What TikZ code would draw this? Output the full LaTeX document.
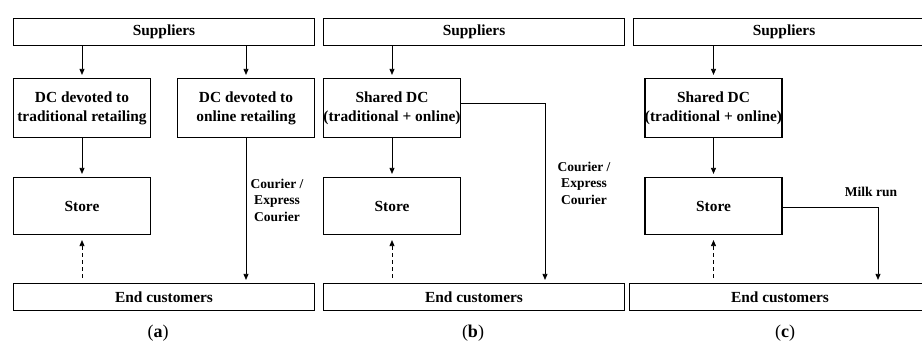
\documentclass[tikz,border=0pt]{standalone}
\usepackage{fontspec}
\setmainfont{Liberation Serif}
\usetikzlibrary{arrows.meta}

\begin{document}
\begin{tikzpicture}[x=1pt, y=-1pt,
  box/.style={draw, line width=1.2pt, align=center, inner sep=0pt, font=\bfseries\fontsize{15.4}{19}\selectfont},
  wide/.style={box, minimum width=301pt, minimum height=27pt},
  dc/.style={box, minimum width=137pt, minimum height=59pt},
  shop/.style={box, minimum width=137pt, minimum height=57pt},
  flow/.style={line width=0.8pt, -{Triangle[length=6pt,width=5pt]}, shorten >=3pt},
  back/.style={flow, dash pattern=on 4pt off 3pt, shorten <=5pt, shorten >=5pt},
  lbl/.style={align=center, font=\bfseries\fontsize{13.5}{16.5}\selectfont},
  captext/.style={font=\fontsize{18}{20}\selectfont}]
  \clip (0,0) rectangle (922,344);

  % (a) separate DCs
  \node[wide] (supA) at (164,32) {Suppliers};
  \node[dc] (dctA) at (82,108) {DC devoted to\\traditional retailing};
  \node[dc] (dcoA) at (246,108) {DC devoted to\\online retailing};
  \node[shop] (storeA) at (82,206) {Store};
  \node[wide] (endA) at (164,297) {End customers};
  \draw[flow] (supA.south -| dctA) -- (dctA);
  \draw[flow] (supA.south -| dcoA) -- (dcoA);
  \draw[flow] (dctA) -- (storeA);
  \draw[back] (endA.north -| storeA) -- (storeA.south);
  \draw[flow] (dcoA) -- (dcoA |- endA.north);
  \node[lbl] (courA) at (277,200) {Courier /\\Express\\Courier};

  % (b) shared DC, courier
  \node[wide] (supB) at (474,32) {Suppliers};
  \node[dc] (dcB) at (392,108) {Shared DC\\(traditional + online)};
  \node[shop] (storeB) at (392,206) {Store};
  \node[wide] (endB) at (474,297) {End customers};
  \coordinate (turnB) at (545,103);
  \draw[flow] (supB.south -| dcB) -- (dcB);
  \draw[flow] (dcB) -- (storeB);
  \draw[back] (endB.north -| storeB) -- (storeB.south);
  \draw[flow] (dcB.east |- turnB) -- (turnB) -- (turnB |- endB.north);
  \node[lbl] (courB) at (584,183) {Courier /\\Express\\Courier};

  % (c) shared DC, milk run from store
  \node[wide] (supC) at (784,32) {Suppliers};
  \node[dc] (dcC) at (713.5,108) {Shared DC\\(traditional + online)};
  \node[shop] (storeC) at (713.5,206) {Store};
  \node[wide] (endC) at (780,297) {End customers};
  \coordinate (turnC) at (878,207);
  \draw[flow] (supC.south -| dcC) -- (dcC);
  \draw[flow] (dcC) -- (storeC);
  \draw[back] (endC.north -| storeC) -- (storeC.south);
  \draw[flow] (storeC.east |- turnC) -- (turnC) -- (turnC |- endC.north);
  \node[lbl] (milk) at (871,192) {Milk run};

  \node[captext] (capA) at (158,333) {(\textbf{a})};
  \node[captext] (capB) at (473,333) {(\textbf{b})};
  \node[captext] (capC) at (785,333) {(\textbf{c})};
\end{tikzpicture}
\end{document}
